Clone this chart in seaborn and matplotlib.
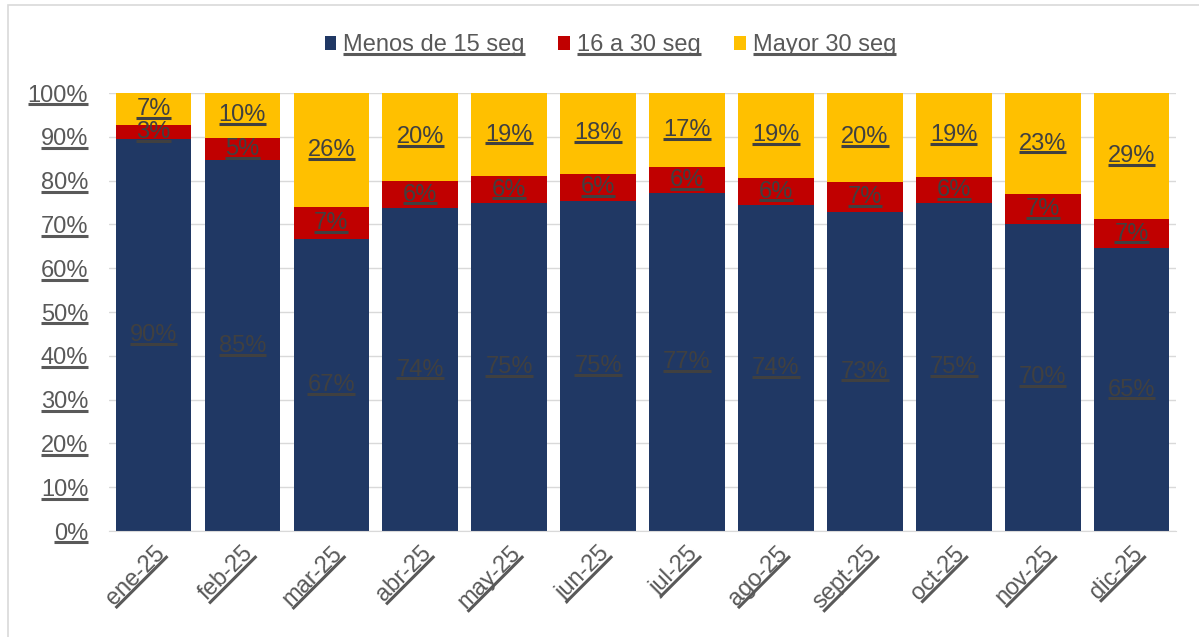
import matplotlib
matplotlib.use("Agg")
import numpy as np
import matplotlib.pyplot as plt
from matplotlib.patches import Patch, Rectangle
from matplotlib.lines import Line2D
from matplotlib.transforms import IdentityTransform
import pandas as pd
import seaborn as sns

meses = ["ene-25", "feb-25", "mar-25", "abr-25", "may-25", "jun-25",
         "jul-25", "ago-25", "sept-25", "oct-25", "nov-25", "dic-25"]
menos_15 = [89.6, 84.6, 66.6, 73.7, 74.9, 75.3, 77.2, 74.4, 72.8, 74.9, 70.1, 64.6]
de_16_30 = [3.1, 5.2, 7.4, 6.2, 6.1, 6.3, 5.9, 6.2, 6.9, 5.9, 6.8, 6.6]
mayor_30 = [round(100 - a - b, 1) for a, b in zip(menos_15, de_16_30)]

series = ["Menos de 15 seg", "16 a 30 seg", "Mayor 30 seg"]
colores = ["#203864", "#C00000", "#FFC000"]

sns.set_style("white")
plt.rcParams["font.family"] = ["Liberation Sans", "DejaVu Sans"]
FS = 17

df = pd.DataFrame({"mes": meses, "menos": menos_15, "medio": de_16_30, "mayor": mayor_30})
df["tope_medio"] = df["menos"] + df["medio"]
df["total"] = df["tope_medio"] + df["mayor"]

fig = plt.figure(figsize=(11.99, 6.37), dpi=100)
ax = fig.add_axes([0.0909, 0.1664, 0.890, 0.6876])

# barras apiladas: se dibujan los acumulados de mayor a menor
for col, c, z in [("total", colores[2], 2), ("tope_medio", colores[1], 3), ("menos", colores[0], 4)]:
    sns.barplot(data=df, x="mes", y=col, color=c, width=0.85, saturation=1,
                linewidth=0, ax=ax, zorder=z)

lbl_color = "#404040"
etiquetas = []
for i, row in df.iterrows():
    partes = [(0, row["menos"]), (row["menos"], row["medio"]), (row["tope_medio"], row["mayor"])]
    for base, alto in partes:
        t = ax.text(i, base + alto / 2, f"{round(alto):.0f}%", ha="center", va="center",
                    fontsize=FS, color=lbl_color, zorder=6)
        etiquetas.append(t)

ax.set_ylim(0, 100)
ax.set_xlim(-0.5, len(meses) - 0.5)
ax.set_yticks(range(0, 101, 10))
ax.set_yticklabels([f"{v}%" for v in range(0, 101, 10)], fontsize=FS, color="#595959")
ax.set_xticks(range(len(meses)))
ax.set_xticklabels(meses, fontsize=FS, color="#595959",
                   rotation=45, ha="right", rotation_mode="anchor")
ax.set_xticks([i - 0.5 for i in range(len(meses) + 1)], minor=True)
ax.tick_params(axis="x", which="major", length=0, pad=8)
ax.tick_params(axis="x", which="minor", length=7, color="#D9D9D9", width=1)
ax.tick_params(axis="y", length=0, pad=15)
ax.set_xlabel("")
ax.set_ylabel("")
ax.yaxis.grid(True, color="#D9D9D9", linewidth=1, zorder=0)
ax.set_axisbelow(True)
for lado in ["top", "right", "left"]:
    ax.spines[lado].set_visible(False)
ax.spines["bottom"].set_color("#D9D9D9")
ax.spines["bottom"].set_zorder(5)

handles = [Patch(facecolor=c, edgecolor="none") for c in colores]
leg = fig.legend(handles, series, loc="center", bbox_to_anchor=(0.509, 0.929),
                 ncol=3, frameon=False, fontsize=FS, handlelength=0.5, handleheight=0.5,
                 handletextpad=0.3, columnspacing=1.4, labelcolor="#595959")

fig.patches.append(Rectangle((8 / 1199, -0.02), 1.05, 1 - 5 / 637 + 0.02,
                             transform=fig.transFigure, fill=False,
                             edgecolor="#D9D9D9", linewidth=1.2))


# subrayado de textos (como en el grafico de Excel)
def subrayar(t, renderer):
    rot = t.get_rotation()
    t.set_rotation(0)
    bb = t.get_window_extent(renderer)
    prop = t.get_fontproperties()
    _, _, d = renderer.get_text_width_height_descent(t.get_text(), prop, ismath=False)
    _, _, d_lp = renderer.get_text_width_height_descent("lp", prop, ismath=False)
    t.set_rotation(rot)
    em = t.get_fontsize() * fig.dpi / 72
    y = bb.y0 + max(d, d_lp) - 0.12 * em
    pts = np.array([[bb.x0, y], [bb.x1, y]])
    if rot:
        cx, cy = t.get_transform().transform(t.get_unitless_position())
        a = np.deg2rad(rot)
        r = np.array([[np.cos(a), -np.sin(a)], [np.sin(a), np.cos(a)]])
        pts = (pts - [cx, cy]) @ r.T + [cx, cy]
    fig.add_artist(Line2D(pts[:, 0], pts[:, 1], transform=IdentityTransform(),
                          color=t.get_color(), linewidth=2.2, solid_capstyle="butt",
                          zorder=7))


fig.canvas.draw()
r = fig.canvas.get_renderer()
for t in list(ax.get_xticklabels()) + list(ax.get_yticklabels()) + leg.get_texts() + etiquetas:
    if t.get_visible() and t.get_text():
        subrayar(t, r)

fig.savefig("out.png", dpi=100)
